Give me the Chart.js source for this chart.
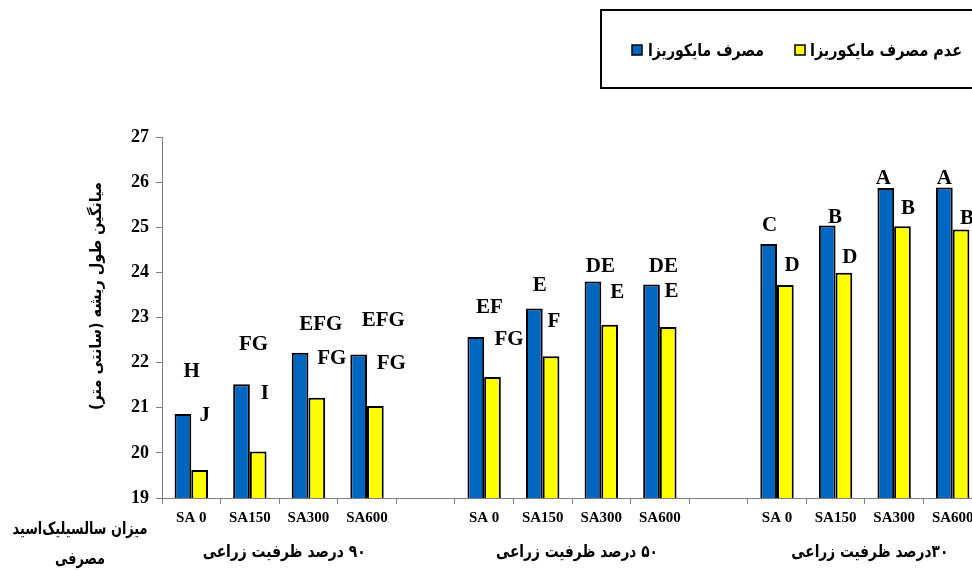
<!DOCTYPE html>
<html>
<head>
<meta charset="utf-8">
<script src="https://cdn.jsdelivr.net/npm/chart.js@4"></script>
<style>
html,body{margin:0;padding:0;background:#fff;overflow:hidden;width:972px;height:570px;}
#wrap{position:absolute;left:0;top:0;width:1000px;height:570px;}
</style>
</head>
<body>
<div id="wrap"><canvas id="c" width="1000" height="570"></canvas></div>
<script>
// ---- data ----
const categories = ['SA 0','SA150','SA300','SA600','','SA 0','SA150','SA300','SA600','','SA 0','SA150','SA300','SA600'];
const withMycorrhiza = [20.86,21.52,22.22,22.18,null,22.57,23.20,23.80,23.73,null,24.63,25.04,25.87,25.88];
const withoutMycorrhiza = [19.62,20.03,21.22,21.04,null,21.68,22.14,22.84,22.79,null,23.72,23.99,25.02,24.95];
const lettersWith = ['H','FG','EFG','EFG','','EF','E','DE','DE','','C','B','A','A'];
const lettersWithout = ['J','I','FG','FG','','FG','F','E','E','','D','D','B','B'];
const seriesNames = ['مصرف مایکوریزا','عدم مصرف مایکوریزا'];
const groupLabels = ['۹۰ درصد ظرفیت زراعی','۵۰ درصد ظرفیت زراعی','۳۰درصد ظرفیت زراعی'];
const groupCategoryRanges = [[0,3],[5,8],[10,13]];
const yTitle = 'میانگین طول ریشه (سانتی متر)';
const xSideLabel = ['میزان سالسیلیک‌اسید','مصرفی'];
const yMin = 19, yMax = 27;

// ---- label placement (style) ----
const letterOffsets = [
  [[8.7,-42],[12,-40],[20.7,-28],[24.7,-34],null,[13.7,-29],[5.3,-23],[7.5,-15],[11.8,-18],null,[1,-18],[7.7,-8],[-2.4,-9],[0,-9]],
  [[5,-54],[6.7,-58],[15,-39],[16,-42],null,[16.5,-37],[2.8,-35],[7.7,-32],[3.4,-35],null,[6.8,-19],[6,-15],[5.5,-18],[6,-11]]
];
const BLUE = '#0066C0', YELLOW = '#FFFF00';
const ARFONT = '"DejaVu Sans", sans-serif';
const SERIF = '"Liberation Serif", "Times New Roman", serif';

// draw text at fixed font size, squeezed horizontally to a target width
function drawFitted(ctx, text, x, y, targetW, size, weight, align) {
  ctx.save();
  ctx.font = weight + ' ' + size + 'px ' + ARFONT;
  ctx.direction = 'rtl';
  ctx.textBaseline = 'middle';
  ctx.textAlign = align;
  const w = ctx.measureText(text).width;
  const s = Math.min(1, targetW / w);
  ctx.translate(x, y);
  ctx.scale(s, 1);
  ctx.fillText(text, 0, 0);
  ctx.restore();
}

const decor = {
  id: 'decor',
  afterDatasetsDraw(chart) {
    const ctx = chart.ctx;
    const letters = [lettersWith, lettersWithout];
    ctx.save();
    ctx.fillStyle = '#000';
    ctx.font = 'bold 21px ' + SERIF;
    ctx.textAlign = 'center';
    ctx.textBaseline = 'middle';
    for (let d = 0; d < 2; d++) {
      const meta = chart.getDatasetMeta(d);
      meta.data.forEach((el, i) => {
        const t = letters[d][i];
        const off = letterOffsets[d][i];
        if (!t || !off) return;
        ctx.fillText(t, el.x + off[0], el.y + off[1]);
      });
    }
    ctx.restore();
  },
  afterDraw(chart) {
    const ctx = chart.ctx;
    const xs = chart.scales.x;
    ctx.save();
    // legend
    ctx.strokeStyle = '#000';
    ctx.lineWidth = 2;
    ctx.strokeRect(601, 10, 420, 78);
    const ds = chart.data.datasets;
    const items = [{x:632, tx:648, w:116}, {x:795, tx:810, w:152}];
    items.forEach((it, k) => {
      ctx.fillStyle = ds[k].backgroundColor;
      ctx.fillRect(it.x, 45, 10, 10);
      ctx.lineWidth = 1.5;
      ctx.strokeRect(it.x, 45, 10, 10);
      ctx.fillStyle = '#000';
      drawFitted(ctx, ds[k].label, it.tx, 52, it.w, 17, 'bold', 'left');
    });
    // group labels
    const gW = [163, 162, 157];
    groupLabels.forEach((g, k) => {
      const r = groupCategoryRanges[k];
      const cx = (xs.getPixelForValue(r[0]) + xs.getPixelForValue(r[1])) / 2 + 5;
      drawFitted(ctx, g, cx, 553, gW[k], 17, 'bold', 'center');
    });
    // side label
    drawFitted(ctx, xSideLabel[0], 80, 530, 135, 17, 'bold', 'center');
    drawFitted(ctx, xSideLabel[1], 80, 560, 50, 17, 'bold', 'center');
    // y title
    ctx.translate(97, 296);
    ctx.rotate(-Math.PI / 2);
    drawFitted(ctx, yTitle, 0, 0, 228, 16, 'bold', 'center');
    ctx.restore();
  }
};

new Chart(document.getElementById('c'), {
  type: 'bar',
  data: {
    labels: categories,
    datasets: [
      {label: seriesNames[0], data: withMycorrhiza, backgroundColor: BLUE, borderColor: '#000', borderWidth: 2, borderSkipped: false},
      {label: seriesNames[1], data: withoutMycorrhiza, backgroundColor: YELLOW, borderColor: '#000', borderWidth: 2, borderSkipped: false}
    ]
  },
  options: {
    responsive: false,
    animation: false,
    devicePixelRatio: 1,
    datasets: {bar: {categoryPercentage: 0.57, barPercentage: 1.0}},
    layout: {padding: {left: 0, right: 18, top: 137, bottom: 0}},
    plugins: {legend: {display: false}, tooltip: {enabled: false}},
    scales: {
      x: {
        grid: {offset: true, drawOnChartArea: false, drawTicks: true, tickLength: 6, color: '#808080'},
        border: {color: '#808080', width: 1},
        ticks: {color: '#000', font: {family: SERIF, size: 15, weight: 'bold'}, maxRotation: 0, autoSkip: false, padding: 5},
        afterFit(scale) { scale.height = 72; }
      },
      y: {
        min: yMin, max: yMax,
        grid: {drawOnChartArea: false, drawTicks: true, tickLength: 6, color: '#808080'},
        border: {color: '#808080', width: 1},
        ticks: {stepSize: 1, color: '#000', font: {family: SERIF, size: 18, weight: 'bold'}, padding: 7},
        afterFit(scale) { scale.width = 162; }
      }
    }
  },
  plugins: [decor]
});
</script>
</body>
</html>
